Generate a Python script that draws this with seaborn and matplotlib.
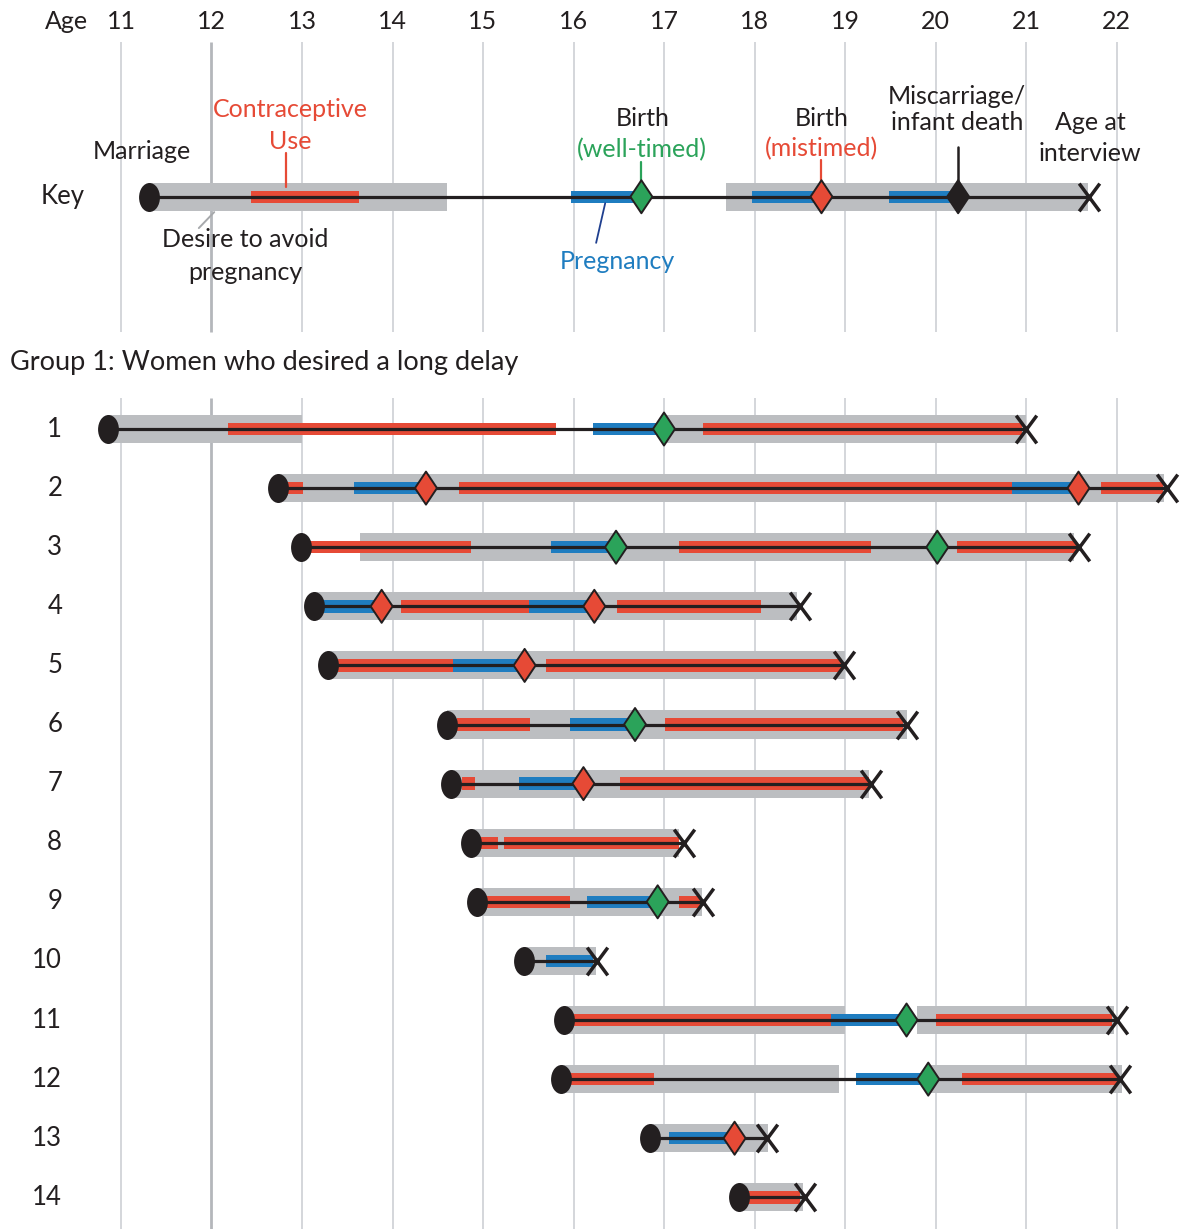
import pandas as pd
import matplotlib
matplotlib.use("Agg")
import matplotlib.pyplot as plt
from matplotlib.path import Path
from matplotlib.transforms import Affine2D
import seaborn as sns

sns.set_style("white")
plt.rcParams["font.family"] = ["Lato", "DejaVu Sans"]

# row 0 is the key, rows 1-14 are the women of group 1
ages = list(range(11, 23))
row_labels = [str(i) for i in range(1, 15)]
marriage = [11.31, 10.86, 12.73, 12.99, 13.13, 13.29, 14.60, 14.65, 14.87, 14.93, 15.45, 15.90, 15.86, 16.84, 17.83]
interview = [21.70, 21.00, 22.56, 21.59, 18.50, 18.99, 19.69, 19.29, 17.22, 17.43, 16.26, 22.00, 22.04, 18.14, 18.56]

desire = [(0, 11.31, 14.60), (0, 17.68, 21.68),
          (1, 10.86, 13.00), (1, 17.00, 21.00),
          (2, 12.73, 22.53), (3, 13.64, 21.53), (4, 13.13, 18.47),
          (5, 13.29, 19.00), (6, 14.60, 19.68), (7, 14.65, 19.26),
          (8, 14.87, 17.17), (9, 14.93, 17.42), (10, 15.45, 16.25),
          (11, 15.90, 19.00), (11, 19.80, 21.97),
          (12, 15.86, 18.93), (12, 19.91, 22.06),
          (13, 16.84, 18.15), (14, 17.83, 18.54)]

contraception = [(0, 12.44, 13.63),
                 (1, 12.18, 15.81), (1, 17.43, 20.96),
                 (2, 12.83, 13.01), (2, 14.73, 20.84), (2, 21.83, 22.51),
                 (3, 13.08, 14.87), (3, 17.17, 19.29), (3, 20.24, 21.55),
                 (4, 14.09, 15.51), (4, 16.48, 18.07),
                 (5, 13.40, 14.67), (5, 15.70, 18.97),
                 (6, 14.71, 15.52), (6, 17.01, 19.64),
                 (7, 14.77, 14.91), (7, 16.51, 19.26),
                 (8, 14.98, 15.17), (8, 15.23, 17.17),
                 (9, 15.03, 15.96), (9, 17.17, 17.40),
                 (11, 16.00, 18.85), (11, 20.01, 21.95),
                 (12, 15.96, 16.89), (12, 20.29, 22.00),
                 (14, 17.93, 18.50)]

pregnancy = [(0, 15.97, 16.75), (0, 17.97, 18.74), (0, 19.49, 20.25),
             (1, 16.22, 17.00), (2, 13.57, 14.37), (2, 20.84, 21.58),
             (3, 15.75, 16.47), (4, 13.23, 13.88), (4, 15.51, 16.23),
             (5, 14.67, 15.46), (6, 15.96, 16.68), (7, 15.40, 16.11),
             (9, 16.15, 16.93), (10, 15.70, 16.21), (11, 18.85, 19.68),
             (12, 19.12, 19.92), (13, 17.05, 17.78)]

birth_row = [0, 0, 0, 1, 2, 2, 3, 3, 4, 4, 5, 6, 7, 9, 11, 12, 13]
birth_age = [16.75, 18.74, 20.25, 17.00, 14.37, 21.58, 16.47, 20.02, 13.88, 16.23,
             15.46, 16.68, 16.11, 16.93, 19.68, 19.92, 17.78]
birth_kind = ["well-timed", "mistimed", "loss", "well-timed", "mistimed", "mistimed",
              "well-timed", "well-timed", "mistimed", "mistimed", "mistimed", "well-timed",
              "mistimed", "well-timed", "well-timed", "well-timed", "mistimed"]

GRAY = "#BCBEC1"
RED = "#E64A36"
BLUE = "#1F7DC0"
GREEN = "#2BA35A"
DARK = "#231F20"
GRID = "#C9CCD1"
KEY_Y = -2.93


def ypos(r):
    return KEY_Y if r == 0 else r


fig = plt.figure(figsize=(11.88, 12.29), dpi=100)
ax = fig.add_axes([0, 0, 1, 1])

# grid lines, broken where the group heading sits
for a in ages:
    lw = 2.0 if a == 12 else 1.1
    c = "#B4B7BB" if a == 12 else GRID
    ax.vlines(a, -5.55, -0.64, color=c, lw=lw, zorder=0)
    ax.vlines(a, 0.48, 14.6, color=c, lw=lw, zorder=0)


def bars(segs, color, h, z):
    df = pd.DataFrame(segs, columns=["row", "start", "end"])
    ax.barh([ypos(r) for r in df.row], df.end - df.start, left=df.start,
            height=h, color=color, lw=0, zorder=z)


bars(desire, GRAY, 0.475, 1)
bars(contraception, RED, 0.21, 2)
bars(pregnancy, BLUE, 0.21, 2)

ys = [ypos(r) for r in range(len(marriage))]
ax.hlines(ys, marriage, interview, color=DARK, lw=2.3, zorder=3)

ellipse = Path.unit_circle().transformed(Affine2D().scale(0.72, 1.0))
diamond = Path([(0, 1), (0.667, 0), (0, -1), (-0.667, 0), (0, 1)],
               [Path.MOVETO, Path.LINETO, Path.LINETO, Path.LINETO, Path.CLOSEPOLY])
cross = Path([(-0.37, -0.5), (0.37, 0.5), (-0.37, 0.5), (0.37, -0.5)],
             [Path.MOVETO, Path.LINETO, Path.MOVETO, Path.LINETO])

sns.scatterplot(x=marriage, y=ys, marker=ellipse, s=436, color=DARK,
                edgecolor=DARK, linewidth=0, zorder=5, ax=ax)
births = pd.DataFrame({"age": birth_age, "y": [ypos(r) for r in birth_row], "kind": birth_kind})
sns.scatterplot(data=births, x="age", y="y", hue="kind", marker=diamond, s=565,
                palette={"well-timed": GREEN, "mistimed": RED, "loss": DARK},
                edgecolor=DARK, linewidth=1.4, legend=False, zorder=5, ax=ax)
sns.scatterplot(x=interview, y=ys, marker=cross, s=400, color=DARK,
                edgecolor=DARK, linewidth=2.5, zorder=6, ax=ax)

# axis header and row labels
FS = 18
ax.text(10.40, -5.89, "Age", ha="center", va="center", fontsize=FS, color=DARK)
for a in ages:
    ax.text(a, -5.89, str(a), ha="center", va="center", fontsize=FS, color=DARK)
ax.text(10.36, KEY_Y, "Key", ha="center", va="center", fontsize=18.5, color=DARK)
for i, lab in enumerate(row_labels, start=1):
    ax.text(10.35, i, lab, ha="right", va="center", fontsize=18.5, color=DARK)
ax.text(9.77, -0.13, "Group 1: Women who desired a long delay", ha="left",
        va="center", fontsize=19.5, color=DARK)

# key annotations
ax.text(11.23, -3.69, "Marriage", ha="center", va="center", fontsize=FS, color=DARK)
ax.text(12.87, -4.40, "Contraceptive", ha="center", va="center", fontsize=FS, color=RED)
ax.text(12.87, -3.87, "Use", ha="center", va="center", fontsize=FS, color=RED)
ax.plot([12.82, 12.82], [-3.67, -3.10], color=RED, lw=1.6, zorder=4)
ax.text(12.37, -2.20, "Desire to avoid", ha="center", va="center", fontsize=FS, color=DARK)
ax.text(12.37, -1.64, "pregnancy", ha="center", va="center", fontsize=FS, color=DARK)
ax.plot([12.03, 11.86], [-2.67, -2.40], color="#A7A9AC", lw=1.4, zorder=4)
ax.text(16.76, -4.26, "Birth", ha="center", va="center", fontsize=FS, color=DARK)
ax.text(16.76, -3.72, "(well-timed)", ha="center", va="center", fontsize=FS, color=GREEN)
ax.plot([16.75, 16.75], [-3.52, -3.18], color=GREEN, lw=1.6, zorder=4)
ax.text(18.74, -4.26, "Birth", ha="center", va="center", fontsize=FS, color=DARK)
ax.text(18.74, -3.75, "(mistimed)", ha="center", va="center", fontsize=FS, color=RED)
ax.plot([18.74, 18.74], [-3.55, -3.18], color=RED, lw=1.6, zorder=4)
ax.text(20.24, -4.62, "Miscarriage/", ha="center", va="center", fontsize=FS, color=DARK)
ax.text(20.24, -4.19, "infant death", ha="center", va="center", fontsize=FS, color=DARK)
ax.plot([20.25, 20.25], [-3.77, -3.18], color=DARK, lw=1.8, zorder=4)
ax.text(21.71, -4.19, "Age at", ha="center", va="center", fontsize=FS, color=DARK)
ax.text(21.71, -3.67, "interview", ha="center", va="center", fontsize=FS, color=DARK)
ax.text(16.48, -1.83, "Pregnancy", ha="center", va="center", fontsize=FS, color=BLUE)
ax.plot([16.35, 16.25], [-2.82, -2.15], color="#1F3F8F", lw=1.3, zorder=4)

ax.set_xlim(9.663, 22.790)
ax.set_ylim(14.536, -6.259)
ax.axis("off")
fig.savefig("out.png", dpi=100)
